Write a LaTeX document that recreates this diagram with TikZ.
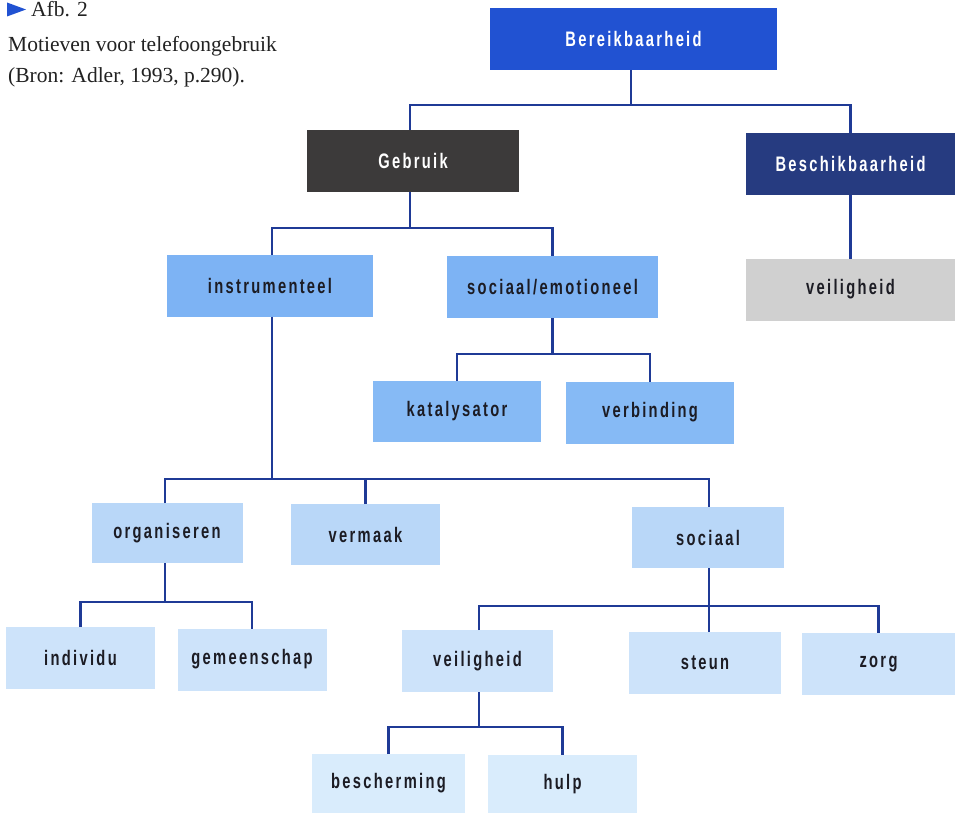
\documentclass[tikz,border=0pt]{standalone}
\usepackage{fontspec}
\setmainfont{Liberation Serif}
\newfontfamily\boxfont[FakeStretch=0.7,LetterSpace=11]{Liberation Sans}
\usetikzlibrary{positioning}
\definecolor{cBer}{HTML}{2152D2}
\definecolor{cGeb}{HTML}{3C3A3A}
\definecolor{cBes}{HTML}{263B80}
\definecolor{cLvA}{HTML}{7DB3F4}
\definecolor{cLvB}{HTML}{86BAF5}
\definecolor{cLvC}{HTML}{B9D7F8}
\definecolor{cLvD}{HTML}{CDE3FA}
\definecolor{cLvE}{HTML}{D9ECFC}
\definecolor{cGray}{HTML}{D0D0D0}
\definecolor{cLine}{HTML}{1F3A96}
\definecolor{cTxt}{HTML}{1C1C24}
\definecolor{cCap}{HTML}{222222}
\tikzset{
  x=1pt,y=-1pt,
  bx/.style={draw=none,inner sep=0pt,outer sep=0pt,minimum height=62pt,
    font=\boxfont\bfseries\fontsize{21}{24}\selectfont,text=cTxt},
  topbx/.style={bx,text=white},
  conn/.style={draw=cLine,line width=2.4pt},
  captxt/.style={anchor=base west,inner sep=0pt,text=cCap,font=\fontsize{21.5}{25}\selectfont}
}
\begin{document}
\begin{tikzpicture}
\useasboundingbox[fill=white] (0,0) rectangle (955,813);
% caption
\fill[cBer] (7,2.5) -- (26,9.5) -- (7,16.5) -- cycle;
\node[captxt] (afb) at (31,17) {Afb. 2};
\node[captxt] (mot) at (8,52) {Motieven voor telefoongebruik};
\node[captxt] (bron) at (8,83) {(Bron: Adler, 1993, p.290).};
% boxes
\node[topbx,fill=cBer,minimum width=287pt] (ber) at (633.5,39) {Bereikbaarheid};
\node[topbx,fill=cGeb,minimum width=212pt] (geb) at (413,161) {Gebruik};
\node[topbx,fill=cBes,minimum width=209pt] (bes) at (850.5,164) {Beschikbaarheid};
\node[bx,fill=cLvA,minimum width=206pt,minimum height=62pt] (ins) at (270,285.5) {instrumenteel};
\node[bx,fill=cLvA,minimum width=211pt] (soe) at (552.5,287) {sociaal/emotioneel};
\node[bx,fill=cGray,minimum width=209pt] (vei1) at (850.5,289.5) {veiligheid};
\node[bx,fill=cLvB,minimum width=168pt,minimum height=61pt] (kat) at (457,411) {katalysator};
\node[bx,fill=cLvB,minimum width=168pt] (ver) at (650,412.5) {verbinding};
\node[bx,fill=cLvC,minimum width=151pt,minimum height=60pt] (org) at (167,533) {organiseren};
\node[bx,fill=cLvC,minimum width=149pt,minimum height=61pt] (vmk) at (365.5,534.5) {vermaak};
\node[bx,fill=cLvC,minimum width=152pt,minimum height=61pt] (soc) at (708,537.5) {sociaal};
\node[bx,fill=cLvD,minimum width=149pt] (ind) at (80.5,658) {individu};
\node[bx,fill=cLvD,minimum width=149pt] (gem) at (252,659.5) {gemeenschap};
\node[bx,fill=cLvD,minimum width=151pt] (vei2) at (477.5,661) {veiligheid};
\node[bx,fill=cLvD,minimum width=152pt] (ste) at (705,663) {steun};
\node[bx,fill=cLvD,minimum width=153pt] (zor) at (878.5,664) {zorg};
\node[bx,fill=cLvE,minimum width=153pt,minimum height=59pt] (bsc) at (388.5,783.5) {bescherming};
\node[bx,fill=cLvE,minimum width=149pt,minimum height=58pt] (hul) at (562.5,784) {hulp};
% junctions
\coordinate (j1) at (631,105);
\coordinate (j2) at (410,228);
\coordinate (j3) at (552.5,354);
\coordinate (j4) at (272,479);
\coordinate (j5) at (165,602);
\coordinate (j6) at (709,606);
\coordinate (j7) at (479,727);
% connectors
\draw[conn] (ber.south -| j1) -- (j1);
\draw[conn] (geb.north -| j2) |- (j1) -| (bes.north);
\draw[conn] (geb.south -| j2) -- (j2);
\draw[conn] (ins.north -| j4) |- (j2) -| (soe.north);
\draw[conn] (bes.south) -- (vei1.north);
\draw[conn] (soe.south) -- (j3);
\draw[conn] (kat.north) |- (j3) -| (ver.north);
\draw[conn] (ins.south -| j4) -- (j4);
\draw[conn] (org.north -| j5) |- (j4) -| (soc.north -| j6);
\draw[conn] (vmk.north) -- (vmk.north |- j4);
\draw[conn] (org.south -| j5) -- (j5);
\draw[conn] (ind.north) |- (j5) -| (gem.north);
\draw[conn] (soc.south -| j6) -- (j6);
\draw[conn] (vei2.north -| j7) |- (j6) -| (zor.north);
\draw[conn] (ste.north -| j6) -- (j6);
\draw[conn] (vei2.south -| j7) -- (j7);
\draw[conn] (bsc.north) |- (j7) -| (hul.north);
\end{tikzpicture}
\end{document}
